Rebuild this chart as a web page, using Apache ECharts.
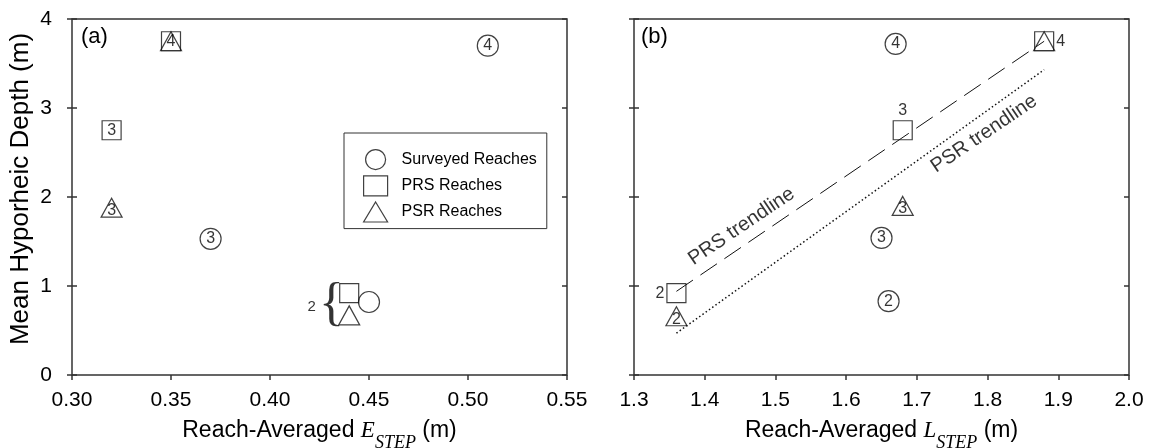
<!DOCTYPE html>
<html>
<head>
<meta charset="utf-8">
<script src="https://cdn.jsdelivr.net/npm/echarts/dist/echarts.min.js"></script>
<style>
  html, body { margin: 0; padding: 0; background: #fff; }
  #chart { width: 1151px; height: 448px; }
</style>
</head>
<body>
<div id="chart"></div>
<script>
// axis ranges and tick steps
const eRange = [0.30, 0.55]
const eStep = 0.05
const lRange = [1.3, 2.0]
const lStep = 0.1
const depthRange = [0, 4]
const depthStep = 1

// (a) reach-averaged E_STEP vs depth
const surveyedA = [[0.45, 0.82], [0.37, 1.53], [0.51, 3.70]]
const surveyedALabels = ['', '3', '4']
const prsA = [[0.44, 0.92], [0.32, 2.75], [0.35, 3.75]]
const prsALabels = ['', '3', '4']
const psrA = [[0.44, 0.67], [0.32, 1.88], [0.35, 3.75]]
const psrALabels = ['', '3', '']

// (b) reach-averaged L_STEP vs depth
const surveyedB = [[1.66, 0.83], [1.65, 1.54], [1.67, 3.72]]
const surveyedBLabels = ['2', '3', '4']
const prsB = [[1.36, 0.92], [1.68, 2.75], [1.88, 3.75]]
const prsBLabels = ['2', '3', '4']
const psrB = [[1.36, 0.66], [1.68, 1.90], [1.88, 3.75]]
const psrBLabels = ['2', '3', '']

// trendlines
const prsTrend = [[1.36, 0.94], [1.88, 3.75]]
const psrTrend = [[1.36, 0.47], [1.88, 3.43]]

// text notes (data coords)
const groupNoteA = [[0.421, 0.77], [0.431, 0.78]]
const groupNoteText = ['2', '{']
const trendNotes = [[1.452, 1.67], [1.795, 2.71]]
const trendNoteText = ['PRS trendline', 'PSR trendline']

const sans = 'Liberation Sans, Arial, sans-serif'
const serif = 'Liberation Serif, Times New Roman, serif'
const ink = '#000'
const spine = '#333'

const markStyle = { color: 'rgba(0,0,0,0)', borderColor: '#111', borderWidth: 1.2 }
const markLabel = { show: true, position: 'inside', fontFamily: sans, fontSize: 16, color: ink }

const chart = echarts.init(document.getElementById('chart'))

function valueX(gridIndex, range, step, digits, name) {
  return {
    type: 'value', gridIndex: gridIndex, min: range[0], max: range[1], interval: step,
    axisLine: { show: false },
    axisTick: { show: true, length: 5, lineStyle: { color: spine, width: 1.5 } },
    splitLine: { show: false },
    axisLabel: { margin: 15, fontFamily: sans, fontSize: 21, color: ink, formatter: v => v.toFixed(digits) },
    name: name, nameLocation: 'middle', nameGap: 34,
    nameTextStyle: {
      fontFamily: sans, fontSize: 23, color: ink,
      rich: {
        v: { fontFamily: serif, fontStyle: 'italic', fontSize: 23, color: ink },
        s: { fontFamily: serif, fontStyle: 'italic', fontSize: 18, color: ink, padding: [25, 0, 0, 0] }
      }
    }
  }
}

function valueY(gridIndex, position, inside, labels) {
  return {
    type: 'value', gridIndex: gridIndex, position: position,
    min: depthRange[0], max: depthRange[1], interval: depthStep,
    axisLine: { show: false },
    axisTick: { show: true, inside: inside, length: 5, lineStyle: { color: spine, width: 1.5 } },
    splitLine: { show: false },
    axisLabel: { show: labels, margin: 20, fontFamily: sans, fontSize: 21, color: ink },
    name: labels ? 'Mean Hyporheic Depth (m)' : '',
    nameLocation: 'middle', nameGap: 38,
    nameTextStyle: { fontFamily: sans, fontSize: 26, color: ink, padding: [0, 0, 0, 16] }
  }
}

function markSeries(name, symbol, size, data, labels, xi, yi, extra) {
  return {
    name: name, type: 'scatter', xAxisIndex: xi, yAxisIndex: yi,
    symbol: symbol, symbolSize: size,
    itemStyle: markStyle,
    label: Object.assign({}, markLabel, extra || {}, { formatter: p => labels[p.dataIndex] }),
    emphasis: { disabled: true },
    data: data,
    z: 3
  }
}

const prsBPos = ['left', 'top', 'right']

var option = {
  animation: false,
  title: [
    { text: '(a)', left: 81, top: 26, padding: 0, textStyle: { fontFamily: sans, fontSize: 22, fontWeight: 'normal', color: ink } },
    { text: '(b)', left: 641, top: 26, padding: 0, textStyle: { fontFamily: sans, fontSize: 22, fontWeight: 'normal', color: ink } }
  ],
  legend: {
    orient: 'vertical', left: 344, top: 133,
    padding: [16, 10, 6, 19], itemGap: 5, itemWidth: 24, itemHeight: 20,
    borderColor: spine, borderWidth: 1,
    itemStyle: { color: 'rgba(0,0,0,0)', borderColor: '#111', borderWidth: 1.2 },
    textStyle: { fontFamily: sans, fontSize: 16, color: ink, padding: [0, 0, 0, 9] },
    selectedMode: false,
    data: [
      { name: 'Surveyed Reaches', icon: 'circle' },
      { name: 'PRS Reaches', icon: 'rect' },
      { name: 'PSR Reaches', icon: 'triangle' }
    ]
  },
  grid: [
    { left: 72, top: 19, width: 495, height: 356, outerBoundsMode: 'none', containLabel: false, show: true, borderColor: spine, borderWidth: 1.5, backgroundColor: 'transparent' },
    { left: 634, top: 19, width: 495, height: 356, outerBoundsMode: 'none', containLabel: false, show: true, borderColor: spine, borderWidth: 1.5, backgroundColor: 'transparent' }
  ],
  xAxis: [
    valueX(0, eRange, eStep, 2, 'Reach-Averaged {v|E}{s|STEP} (m)'),
    valueX(1, lRange, lStep, 1, 'Reach-Averaged {v|L}{s|STEP} (m)')
  ],
  yAxis: [
    valueY(0, 'left', false, true),
    valueY(0, 'left', true, false),
    valueY(0, 'right', true, false),
    valueY(1, 'left', false, false),
    valueY(1, 'left', true, false),
    valueY(1, 'right', true, false)
  ],
  series: [
    markSeries('PRS Reaches', 'rect', [19, 19], prsA, prsALabels, 0, 0),
    markSeries('PSR Reaches', 'triangle', [21, 19], psrA, psrALabels, 0, 0, { offset: [0, 3] }),
    markSeries('Surveyed Reaches', 'circle', 21, surveyedA, surveyedALabels, 0, 0),
    {
      name: 'noteA', type: 'scatter', xAxisIndex: 0, yAxisIndex: 0, symbolSize: 0, silent: true,
      data: groupNoteA.map((d, i) => ({
        value: d,
        label: {
          show: true, position: 'inside', color: ink,
          fontFamily: i === 0 ? sans : serif, fontSize: i === 0 ? 15 : 52,
          formatter: () => groupNoteText[i]
        }
      }))
    },
    {
      name: 'PRS trendline', type: 'line', xAxisIndex: 1, yAxisIndex: 3, symbol: 'none', silent: true,
      lineStyle: { color: '#111', width: 1, type: [20, 9] }, data: prsTrend
    },
    {
      name: 'PSR trendline', type: 'line', xAxisIndex: 1, yAxisIndex: 3, symbol: 'none', silent: true,
      lineStyle: { color: '#111', width: 1.5, type: [1.5, 2.5] }, data: psrTrend
    },
    {
      name: 'prsB', type: 'scatter', xAxisIndex: 1, yAxisIndex: 3,
      symbol: 'rect', symbolSize: [19, 19], itemStyle: markStyle, emphasis: { disabled: true }, z: 3,
      data: prsB.map((d, i) => ({
        value: d,
        label: Object.assign({}, markLabel, { position: prsBPos[i], distance: 2, formatter: () => prsBLabels[i] })
      }))
    },
    markSeries('psrB', 'triangle', [21, 19], psrB, psrBLabels, 1, 3, { offset: [0, 3] }),
    markSeries('surveyedB', 'circle', 21, surveyedB, surveyedBLabels, 1, 3),
    {
      name: 'noteB', type: 'scatter', xAxisIndex: 1, yAxisIndex: 3, symbolSize: 0, silent: true,
      data: trendNotes.map((d, i) => ({
        value: d,
        label: {
          show: true, position: 'inside', rotate: 34, color: ink,
          fontFamily: sans, fontSize: 20, formatter: () => trendNoteText[i]
        }
      }))
    }
  ]
}

chart.setOption(option)
</script>
</body>
</html>
